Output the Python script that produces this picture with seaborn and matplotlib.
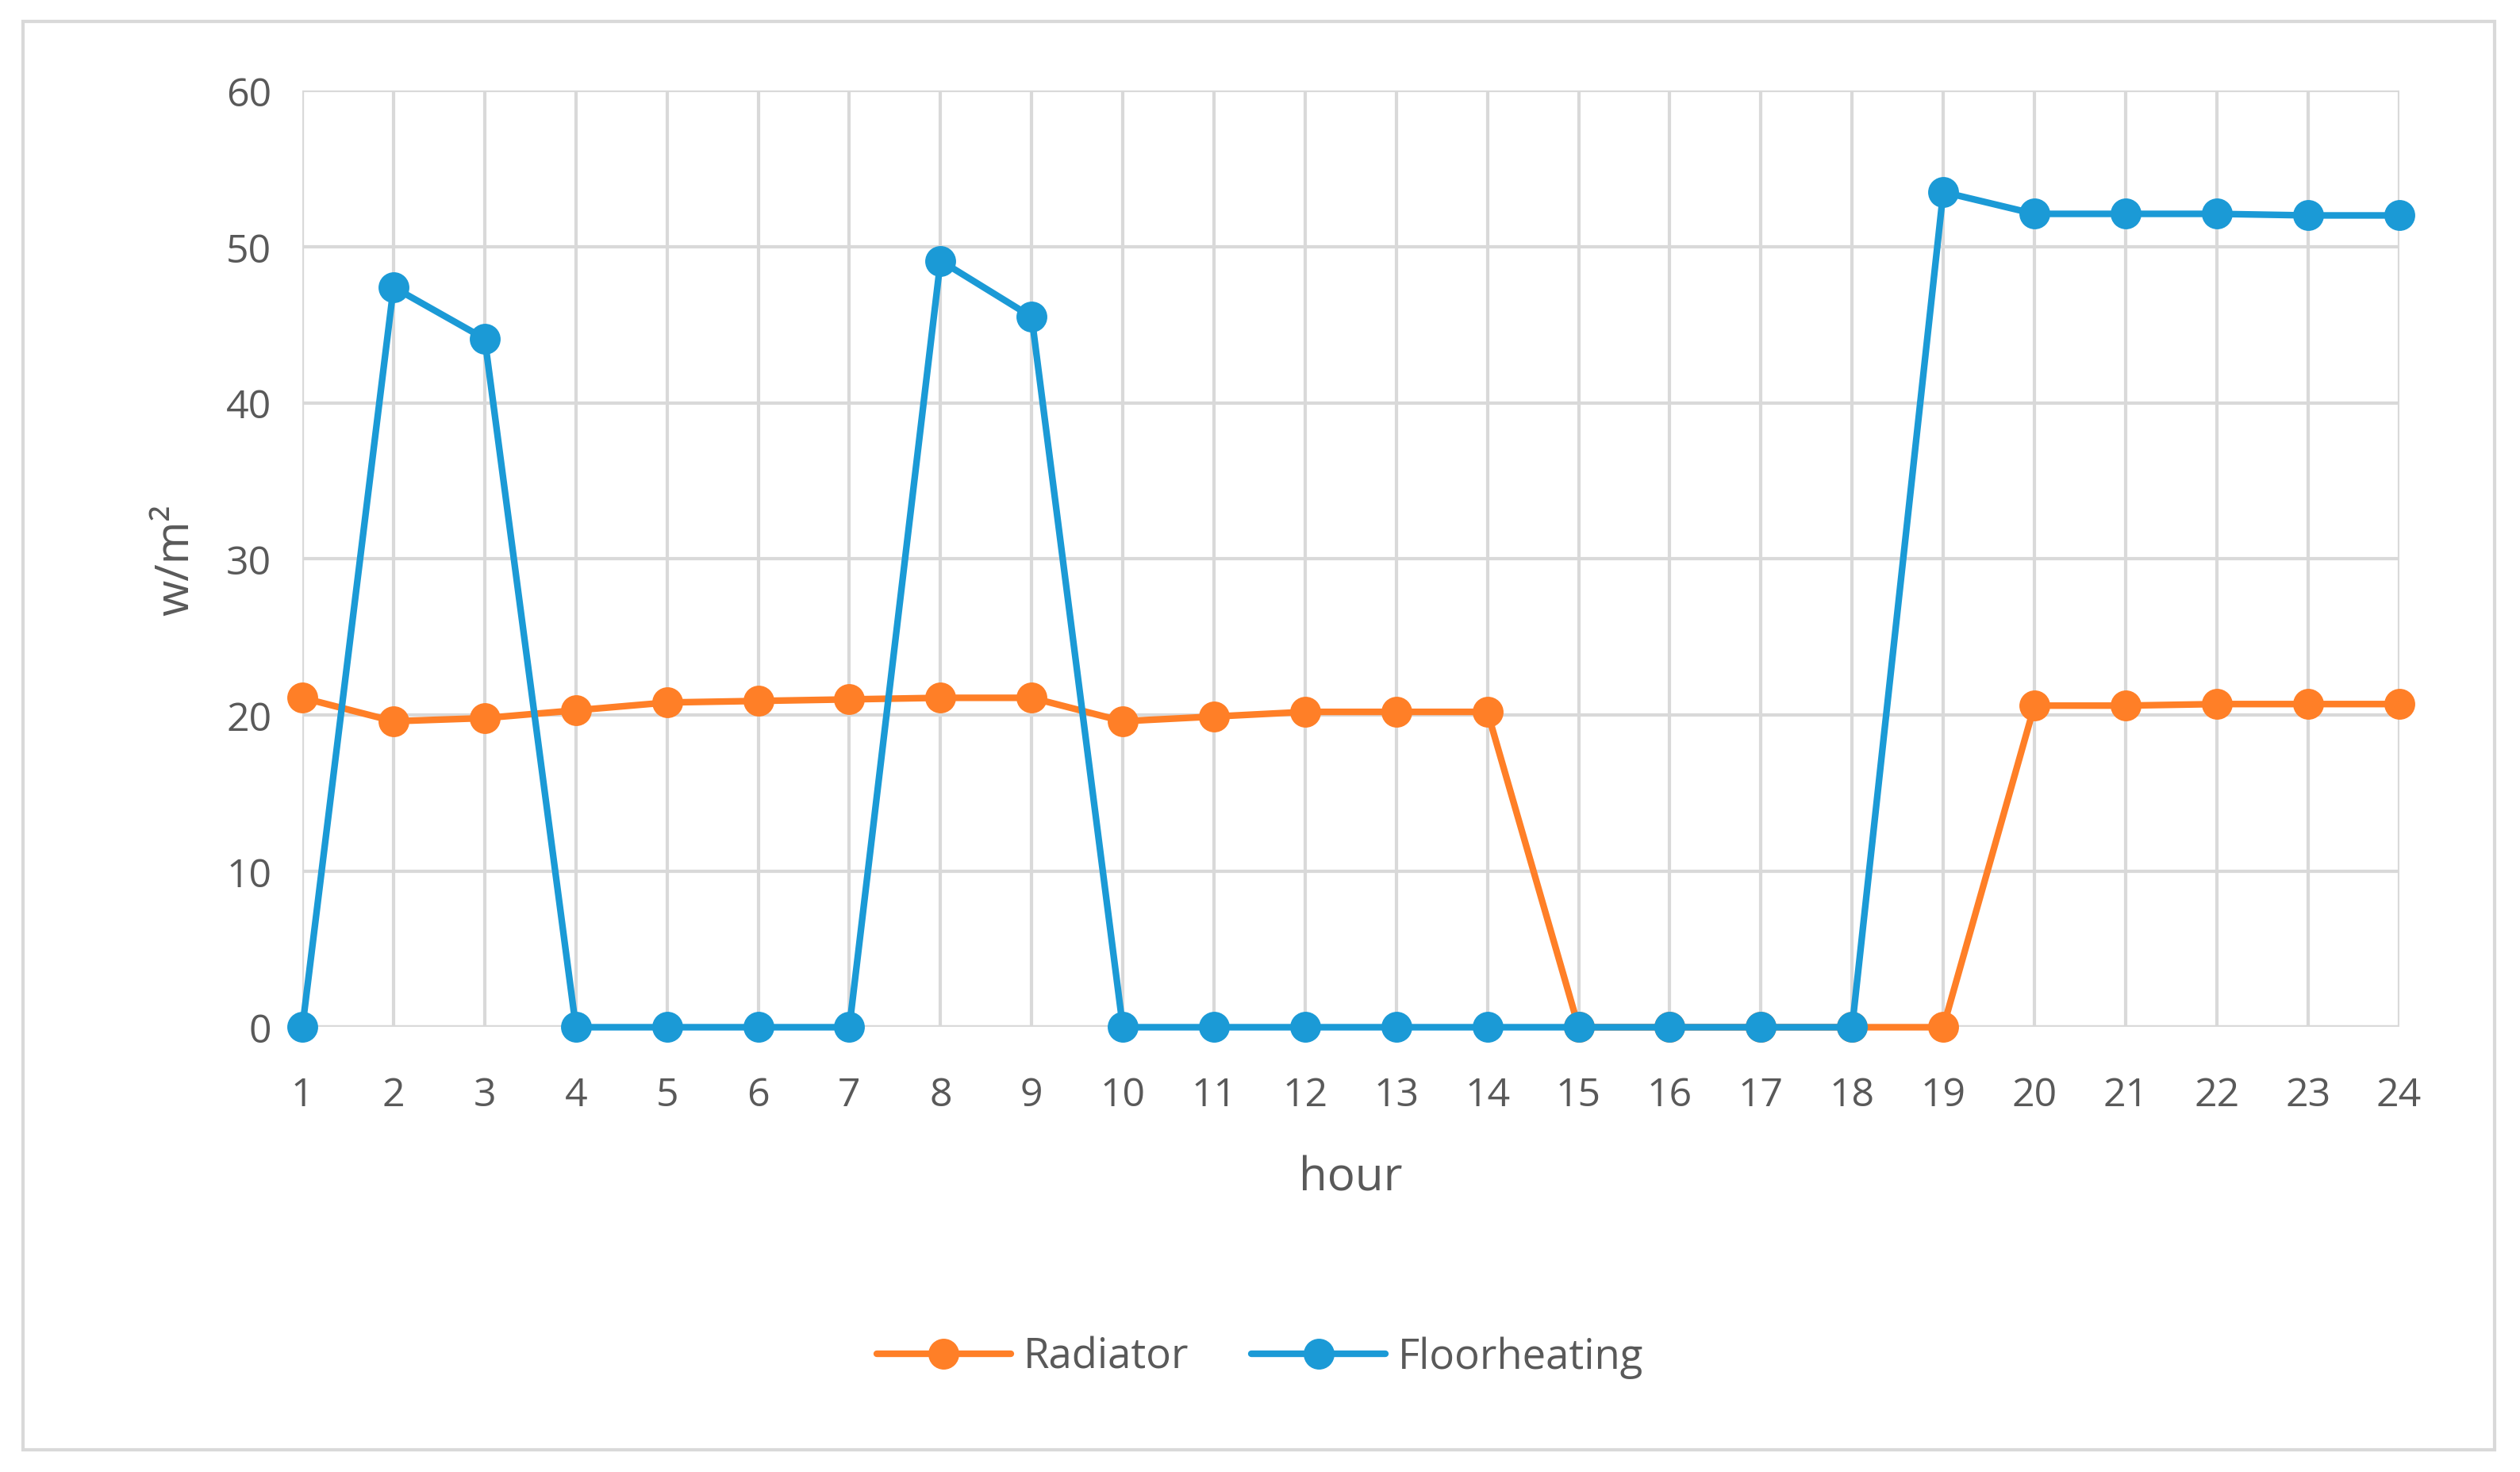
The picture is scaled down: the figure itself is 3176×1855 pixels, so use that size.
import matplotlib
matplotlib.use("Agg")
import matplotlib.pyplot as plt
import seaborn as sns
import pandas as pd
from matplotlib.patches import Rectangle

# Data
hours = list(range(1, 25))
radiator = [21.1, 19.6, 19.8, 20.3, 20.8, 20.9, 21.0, 21.1, 21.1, 19.6, 19.9, 20.2,
            20.2, 20.2, 0, 0, 0, 0, 0, 20.6, 20.6, 20.7, 20.7, 20.7]
floorheating = [0, 47.4, 44.1, 0, 0, 0, 0, 49.1, 45.5, 0, 0, 0,
                0, 0, 0, 0, 0, 0, 53.5, 52.1, 52.1, 52.1, 52.0, 52.0]

df = pd.DataFrame({"hour": hours, "Radiator": radiator, "Floorheating": floorheating})
long = df.melt(id_vars="hour", var_name="series", value_name="value")

sns.set_theme(style="whitegrid")
plt.rcParams["font.family"] = ["Open Sans", "DejaVu Sans"]

fig = plt.figure(figsize=(15.88, 9.28), dpi=200)
ax = fig.add_axes([0.12, 0.302, 0.832, 0.636])

sns.lineplot(data=long, x="hour", y="value", hue="series",
             palette={"Radiator": "#FF7F27", "Floorheating": "#1B9AD6"},
             marker="o", markersize=14, markeredgewidth=0, linewidth=3, ax=ax)
for ln in ax.lines:
    ln.set_clip_on(False)

grey = "#D9D9D9"
ax.set_xlim(1, 24)
ax.set_ylim(0, 60)
ax.set_xticks(hours)
ax.set_yticks(range(0, 61, 10))
ax.grid(True, color=grey, linewidth=1.5)
for s in ax.spines.values():
    s.set_visible(False)
ax.axhline(0, color=grey, linewidth=1.5, zorder=0.5)
ax.axvline(1, color=grey, linewidth=1.5, zorder=0.5)
ax.tick_params(colors="#595959", labelsize=18, length=0)
ax.tick_params(axis="x", pad=22)
ax.tick_params(axis="y", pad=14)
ax.set_xlabel("hour", fontsize=21, color="#595959", labelpad=18)
ax.set_ylabel("w/m²", fontsize=21, color="#595959", labelpad=12)

handles, labels = ax.get_legend_handles_labels()
ax.legend(handles, labels, loc="center", bbox_to_anchor=(0.5, 0.078),
          bbox_transform=fig.transFigure, ncol=2, frameon=False,
          fontsize=19, labelcolor="#595959", handlelength=3.2, handletextpad=0.3,
          columnspacing=1.5)

fig.patches.append(Rectangle((0.009, 0.015), 0.981, 0.97, transform=fig.transFigure,
                             fill=False, edgecolor=grey, linewidth=1.5))

fig.savefig("out.png", dpi=200, facecolor="white")
